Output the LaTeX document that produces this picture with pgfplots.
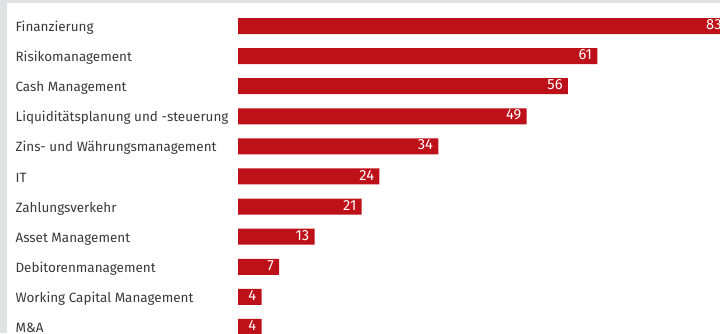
\documentclass[border=0pt]{standalone}
\usepackage{pgfplots}
\pgfplotsset{compat=1.18}
\usepackage{fontspec}
\setmainfont{Fira Sans}
\definecolor{barred}{HTML}{BD1019}
\definecolor{txt}{HTML}{3A3A3A}
\definecolor{framegray}{HTML}{E1E2E4}
\begin{document}
\begin{tikzpicture}
\clip (0,0) rectangle (540pt,249.75pt);
\fill[framegray] (0,0) rectangle (540pt,249.75pt);
\fill[white] (5.25pt,0) rectangle (540pt,247.5pt);
\begin{axis}[
  at={(178.5pt,0pt)}, anchor=south west,
  scale only axis, width=361.5pt, height=249.75pt,
  xmin=0, xmax=81.83, ymin=-0.864, ymax=10.2, y dir=reverse,
  xbar, bar width=12pt, bar shift=0pt,
  clip=false,
  axis line style={draw=none}, tick style={draw=none},
  xtick=\empty, ytick={0,...,10},
  yticklabels={Finanzierung, Risikomanagement, Cash Management, Liquiditätsplanung und -steuerung, Zins- und Währungsmanagement, IT, Zahlungsverkehr, Asset Management, Debitorenmanagement, Working Capital Management, M\&A},
  yticklabel style={anchor=mid west, inner sep=0pt, xshift=-162.75pt, yshift=-1.5pt, text=txt, font=\fontsize{10.1}{12}\selectfont},
  /pgf/number format/assume math mode=true,
  nodes near coords,
  every node near coord/.append style={anchor=mid east, inner sep=0pt, xshift=-3.75pt, text=white, font=\fontsize{11}{12}\selectfont},
]
\addplot[fill=barred, draw=none] coordinates {(83,0) (61,1) (56,2) (49,3) (34,4) (24,5) (21,6) (13,7) (7,8) (4,9) (4,10)};
\end{axis}
\end{tikzpicture}
\end{document}
